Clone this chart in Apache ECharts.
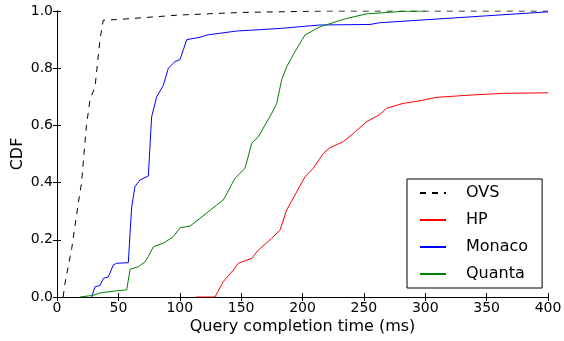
<!DOCTYPE html>
<html>
<head>
<meta charset="utf-8">
<script src="https://cdn.jsdelivr.net/npm/echarts@6/dist/echarts.min.js"></script>
<style>
  html, body { margin: 0; padding: 0; background: #fff; }
  #chart { width: 564px; height: 341px; }
</style>
</head>
<body>
<div id="chart"></div>
<script>
// CDF points: [query time ms, fraction]
const ovs = [
  [5, 0], [6.5, 0.048], [12, 0.17], [17.4, 0.33], [20, 0.40], [24, 0.6],
  [26.9, 0.69], [31, 0.735], [35, 0.90], [37.7, 0.968], [48.6, 0.97],
  [100, 0.986], [150, 0.995], [220, 1.0], [400, 1.0]
];
const hp = [
  [113, 0], [128.7, 0], [135.5, 0.054], [143.6, 0.094], [147.7, 0.118],
  [158.6, 0.135], [164, 0.164], [174.9, 0.205], [181.7, 0.234], [187.1, 0.304],
  [195.3, 0.368], [202, 0.42], [208.8, 0.45], [217, 0.502], [222.4, 0.522],
  [233.2, 0.543], [241.4, 0.572], [252.3, 0.613], [263, 0.638], [268.6, 0.66],
  [282, 0.677], [295.7, 0.686], [309, 0.698], [336.5, 0.706], [363.6, 0.712],
  [400, 0.714]
];
const monaco = [
  [28.2, 0], [31, 0.036], [35, 0.04], [37.7, 0.065], [41.8, 0.07],
  [45.9, 0.112], [48.6, 0.118], [58.1, 0.12], [59.5, 0.223], [60.9, 0.316],
  [63.5, 0.386], [67.6, 0.409], [74.4, 0.423], [77.1, 0.63], [81.2, 0.70],
  [86.6, 0.74], [90.7, 0.80], [96.1, 0.823], [100.2, 0.83], [102.9, 0.864],
  [105.7, 0.90], [116.5, 0.908], [122, 0.916], [146.4, 0.930], [181.7, 0.939],
  [214, 0.951], [255, 0.953], [263, 0.959], [400, 0.997]
];
const quanta = [
  [18.7, 0], [29.6, 0.006], [35, 0.014], [48.6, 0.022], [56.8, 0.025],
  [59.5, 0.097], [66.3, 0.106], [71.7, 0.123], [74.4, 0.141], [78.5, 0.176],
  [86.6, 0.188], [94.8, 0.211], [98.8, 0.234], [100.2, 0.242], [108.4, 0.248],
  [116.5, 0.275], [130.1, 0.322], [135.5, 0.339], [145, 0.415], [153.2, 0.45],
  [158.6, 0.537], [164, 0.56], [174.9, 0.642], [179, 0.677], [183, 0.759],
  [187.1, 0.805], [193.9, 0.858], [202, 0.916], [214.3, 0.945], [236, 0.974],
  [252.3, 0.99], [263, 0.993], [282, 0.999], [300, 1.0]
];

const FONT = 'DejaVu Sans';
const AXIS_LINE = { lineStyle: { color: '#000', width: 1 } };
const TICK = { inside: true, length: 4, lineStyle: { color: '#000' } };

function lineSeries(name, data, color, type) {
  return {
    name: name,
    type: 'line',
    data: data,
    symbol: 'none',
    z: 3,
    lineStyle: { color: color, width: 1, type: type || 'solid' },
    itemStyle: { color: color }
  };
}

const chart = echarts.init(document.getElementById('chart'), null, { renderer: 'canvas' });
chart.setOption({
  animation: false,
  textStyle: { fontFamily: FONT },
  grid: { left: 57, right: 16, top: 11, bottom: 44, containLabel: false, outerBoundsMode: 'none' },
  xAxis: [
    {
      type: 'value', min: 0, max: 400, interval: 50,
      name: 'Query completion time (ms)', nameLocation: 'middle', nameGap: 22,
      nameMoveOverlap: false,
      nameTextStyle: { fontSize: 16, color: '#000', fontFamily: FONT },
      axisLine: AXIS_LINE, axisTick: TICK, splitLine: { show: false },
      axisLabel: { fontSize: 14, color: '#000', margin: 4, fontFamily: FONT }
    },
    {
      type: 'value', position: 'top', min: 0, max: 400, interval: 50,
      axisLine: AXIS_LINE, axisTick: TICK, splitLine: { show: false },
      axisLabel: { show: false }
    }
  ],
  yAxis: [
    {
      type: 'value', min: 0, max: 1, interval: 0.2,
      name: 'CDF', nameLocation: 'middle', nameGap: 31,
      nameMoveOverlap: false,
      nameTextStyle: { fontSize: 16, color: '#000', fontFamily: FONT },
      axisLine: AXIS_LINE, axisTick: TICK, splitLine: { show: false },
      axisLabel: {
        fontSize: 14, color: '#000', margin: 4, fontFamily: FONT,
        formatter: (v) => v.toFixed(1)
      }
    },
    {
      type: 'value', position: 'right', min: 0, max: 1, interval: 0.2,
      axisLine: AXIS_LINE, axisTick: TICK, splitLine: { show: false },
      axisLabel: { show: false }
    }
  ],
  legend: {
    orient: 'vertical',
    left: 407, top: 179,
    padding: [5, 14, 5, 12],
    itemGap: 9,
    itemWidth: 26, itemHeight: 18,
    backgroundColor: '#fff',
    borderColor: '#000', borderWidth: 1, borderRadius: 0,
    itemStyle: { opacity: 0 },
    textStyle: { fontSize: 16, color: '#000', fontFamily: FONT, lineHeight: 18, padding: [0, 0, 0, 15] },
    data: ['OVS', 'HP', 'Monaco', 'Quanta']
  },
  series: [
    lineSeries('OVS', ovs, '#000', [6, 6]),
    lineSeries('HP', hp, '#ff0000'),
    lineSeries('Monaco', monaco, '#0000ff'),
    lineSeries('Quanta', quanta, '#008000')
  ]
});
</script>
</body>
</html>
